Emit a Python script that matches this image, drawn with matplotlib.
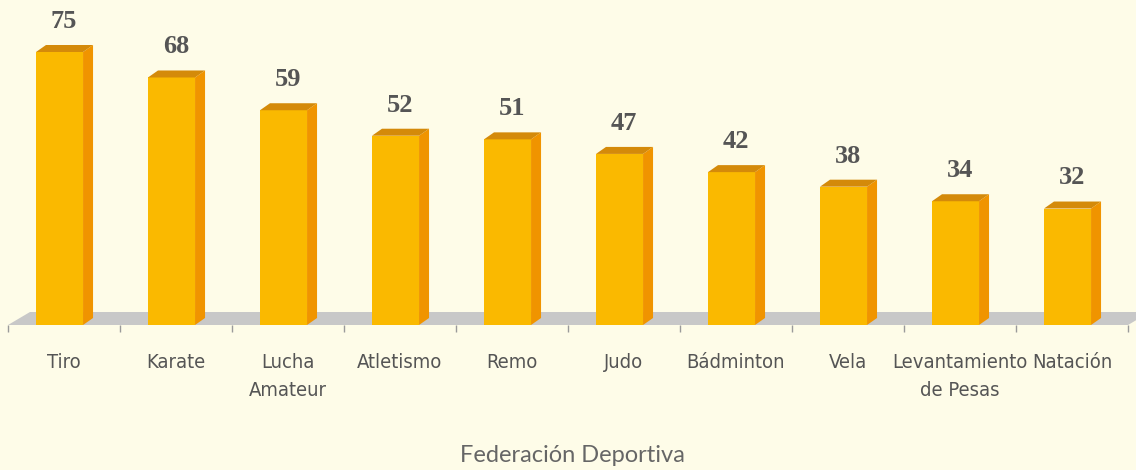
import numpy as np
import matplotlib.pyplot as plt
from matplotlib.patches import Polygon

federaciones = ["Tiro", "Karate", "Lucha\nAmateur", "Atletismo", "Remo", "Judo",
                "Bádminton", "Vela", "Levantamiento\nde Pesas", "Natación"]
valores = [75, 68, 59, 52, 51, 47, 42, 38, 34, 32]

fondo = "#fefce8"
c_frente = "#fab900"
c_lado = "#f09400"
c_tapa = "#d48a0a"
c_piso = "#c8c8c8"
c_texto = "#555555"

fig = plt.figure(figsize=(11.36, 4.70), dpi=100, facecolor=fondo)
# eje: 112 px por categoria, 3.64 px por unidad
ax = fig.add_axes([8 / 1136, 145 / 470, 1120 / 1136, 325 / 470])
ax.set_facecolor(fondo)
ax.set_xlim(-0.5, 9.5)
ax.set_ylim(0, 325 / 3.64)

x = np.arange(len(valores))
ancho = 0.42
desp = -0.04
dx, dy = 10 / 112, 7 / 3.64        # profundidad de las barras
pdx, pdy = 22 / 112, 13 / 3.64     # profundidad del piso

# piso gris
ax.add_patch(Polygon([(-0.5, 0), (9.5, 0), (9.5 + pdx, pdy), (-0.5 + pdx, pdy)],
                     closed=True, facecolor=c_piso, edgecolor="none", zorder=1,
                     clip_on=False))

ax.bar(x + desp, valores, width=ancho, color=c_frente, zorder=3)
for xi, v in zip(x, valores):
    xl = xi + desp - ancho / 2
    xr = xi + desp + ancho / 2
    ax.add_patch(Polygon([(xr, 0), (xr + dx, dy), (xr + dx, v + dy), (xr, v)],
                         closed=True, facecolor=c_lado, edgecolor="none", zorder=3))
    ax.add_patch(Polygon([(xl, v), (xl + dx, v + dy), (xr + dx, v + dy), (xr, v)],
                         closed=True, facecolor=c_tapa, edgecolor="none", zorder=3))
    ax.annotate(str(v), (xi, v + dy), xytext=(0, 17), textcoords="offset points",
                ha="center", va="center", fontsize=19, fontweight="bold",
                family="Liberation Serif", color=c_texto)

for s in ax.spines.values():
    s.set_visible(False)
ax.set_yticks([])
ax.set_xticks(x)
ax.set_xticklabels(federaciones, fontsize=14.5, family="DejaVu Sans",
                   stretch="condensed", color=c_texto, linespacing=1.6)
ax.tick_params(axis="x", which="major", length=0, pad=20)
ax.set_xticks(np.arange(-0.5, 10, 1), minor=True)
ax.tick_params(axis="x", which="minor", length=5, width=1, color="#9a9a9a")

fig.text(572 / 1136, 15 / 470, "Federación Deportiva", ha="center", va="center",
         fontsize=17, family="Lato", color="#666666")

fig.savefig("out.png", dpi=100, facecolor=fondo)
